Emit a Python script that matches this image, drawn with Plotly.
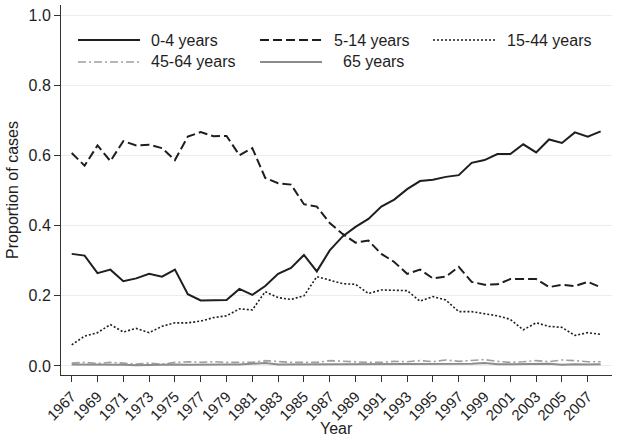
import plotly.graph_objects as go

years = list(range(1967, 2009))

age_0_4 = [0.320, 0.315, 0.265, 0.275, 0.242, 0.250, 0.263, 0.255, 0.275, 0.205,
           0.187, 0.188, 0.188, 0.220, 0.203, 0.228, 0.263, 0.280, 0.317, 0.270,
           0.330, 0.370, 0.397, 0.420, 0.455, 0.475, 0.505, 0.528, 0.532, 0.540,
           0.545, 0.580, 0.588, 0.605, 0.605, 0.633, 0.610, 0.647, 0.637, 0.667,
           0.655, 0.670]

age_5_14 = [0.608, 0.572, 0.630, 0.585, 0.642, 0.630, 0.632, 0.622, 0.588, 0.655,
            0.668, 0.656, 0.657, 0.602, 0.622, 0.537, 0.522, 0.518, 0.462, 0.455,
            0.408, 0.377, 0.352, 0.358, 0.320, 0.297, 0.263, 0.275, 0.250, 0.255,
            0.283, 0.240, 0.232, 0.233, 0.248, 0.248, 0.248, 0.225, 0.232, 0.228,
            0.240, 0.225]

age_15_44 = [0.060, 0.085, 0.095, 0.118, 0.097, 0.107, 0.095, 0.113, 0.123, 0.123,
             0.128, 0.138, 0.143, 0.163, 0.160, 0.212, 0.195, 0.190, 0.200, 0.255,
             0.245, 0.235, 0.233, 0.207, 0.217, 0.215, 0.215, 0.185, 0.198, 0.188,
             0.155, 0.155, 0.150, 0.143, 0.133, 0.103, 0.123, 0.113, 0.110, 0.087,
             0.095, 0.090]

age_45_64 = [0.008, 0.010, 0.007, 0.010, 0.008, 0.005, 0.008, 0.005, 0.010, 0.012,
             0.010, 0.012, 0.010, 0.010, 0.010, 0.015, 0.012, 0.010, 0.010, 0.010,
             0.015, 0.013, 0.010, 0.010, 0.010, 0.013, 0.012, 0.015, 0.012, 0.017,
             0.013, 0.015, 0.018, 0.013, 0.010, 0.012, 0.015, 0.012, 0.017, 0.015,
             0.012, 0.012]

age_65 = [0.004, 0.004, 0.005, 0.004, 0.003, 0.002, 0.003, 0.004, 0.004, 0.003,
          0.004, 0.005, 0.004, 0.004, 0.006, 0.008, 0.004, 0.004, 0.004, 0.005,
          0.005, 0.006, 0.005, 0.004, 0.005, 0.006, 0.005, 0.005, 0.005, 0.006,
          0.006, 0.006, 0.008, 0.005, 0.005, 0.005, 0.006, 0.006, 0.003, 0.005,
          0.004, 0.005]

series_names = ["0-4 years", "5-14 years", "15-44 years", "45-64 years", "65 years"]
series_values = [age_0_4, age_5_14, age_15_44, age_45_64, age_65]
tick_years = list(range(1967, 2008, 2))
y_ticks = [0.0, 0.2, 0.4, 0.6, 0.8, 1.0]

# styles
colors = ["#1e1e1e", "#1e1e1e", "#1e1e1e", "#a0a0a0", "#8c8c8c"]
dashes = ["solid", "9px,4px", "2px,2px", "8px,3px,2px,3px", "solid"]
widths = [2, 2, 1.6, 1.6, 2]

W, H = 618, 442
ML, MR, MT, MB = 61, 6, 5, 67
font = "Liberation Sans, Arial, sans-serif"

fig = go.Figure()
for name, vals, c, d, w in zip(series_names, series_values, colors, dashes, widths):
    fig.add_trace(go.Scatter(x=years, y=vals, mode="lines", name=name,
                             line=dict(color=c, dash=d, width=w), showlegend=False))

# manual legend (layout positions in pixels converted to paper coords)
pw, ph = W - ML - MR, H - MT - MB
def px(x):
    return (x - ML) / pw
def py(y):
    return (H - MB - y) / ph

legend_slots = [(78, 40, 149), (260, 40, 332), (433, 40, 505), (78, 62, 149), (260, 62, 341)]
for (lx, ly, tx), name, c, d, w in zip(legend_slots, series_names, colors, dashes, widths):
    fig.add_shape(type="line", xref="paper", yref="paper",
                  x0=px(lx), x1=px(lx + 62), y0=py(ly), y1=py(ly),
                  line=dict(color=c, dash=d, width=w))
    fig.add_annotation(xref="paper", yref="paper", x=px(tx), y=py(ly),
                       xanchor="left", yanchor="middle", text=name, showarrow=False,
                       font=dict(size=16, color="#1e1e1e", family=font))

# x-axis title placed as text below the rotated tick labels
fig.add_annotation(xref="paper", yref="paper", x=0.5, y=py(428),
                   xanchor="center", yanchor="middle", text="Year", showarrow=False,
                   font=dict(size=16, color="#1e1e1e", family=font))

fig.update_layout(
    width=W, height=H,
    margin=dict(l=ML, r=MR, t=MT, b=MB),
    paper_bgcolor="white", plot_bgcolor="white",
    font=dict(family=font, size=16, color="#1e1e1e"),
    showlegend=False,
    xaxis=dict(range=[1966.17, 2008.88], tickvals=tick_years,
               ticktext=[str(y) for y in tick_years], tickangle=-45,
               ticks="outside", ticklen=6, tickcolor="#333",
               showline=True, linecolor="#333", linewidth=1,
               showgrid=False, zeroline=False, automargin=False,
               tickfont=dict(size=15)),
    yaxis=dict(range=[-0.026, 1.031], tickvals=y_ticks,
               ticktext=[f"{v:.1f}" for v in y_ticks],
               ticks="outside", ticklen=6, tickcolor="#333",
               showline=True, linecolor="#333", linewidth=1,
               showgrid=True, gridcolor="#e6eef0", gridwidth=1,
               zeroline=False, automargin=False,
               title=dict(text="Proportion of cases", font=dict(size=16), standoff=5),
               tickfont=dict(size=16)),
)

fig.write_html("out.html", config={"displayModeBar": False},
               post_script="document.body.style.margin='0';document.body.style.overflow='hidden';")
